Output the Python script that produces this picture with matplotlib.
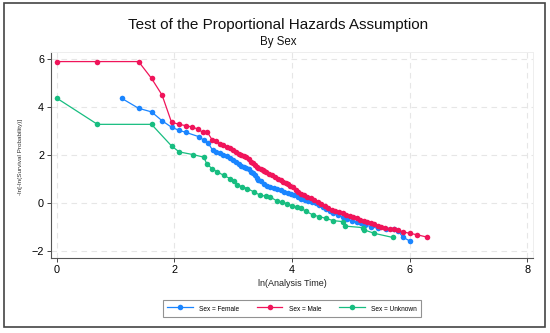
import matplotlib
matplotlib.use("Agg")
import matplotlib.pyplot as plt
from matplotlib.patches import Rectangle

plt.rcParams['font.family'] = ['Liberation Sans', 'DejaVu Sans']

title = "Test of the Proportional Hazards Assumption"
subtitle = "By Sex"
xlabel = "ln(Analysis Time)"
ylabel = "-ln[-ln(Survival Probability)]"
xticks = [0, 2, 4, 6, 8]
yticks = [-2, 0, 2, 4, 6]

female_x = [1.10, 1.39, 1.61, 1.79, 1.95, 2.08, 2.20, 2.41, 2.50, 2.57, 2.65, 2.71, 2.77, 2.83,
            2.89, 2.94, 3.00, 3.04, 3.09, 3.14, 3.18, 3.22, 3.26, 3.30, 3.33, 3.37, 3.40, 3.43,
            3.47, 3.52, 3.58, 3.63, 3.69, 3.75, 3.81, 3.87, 3.93, 3.98, 4.04, 4.10, 4.16, 4.22,
            4.28, 4.34, 4.40, 4.46, 4.52, 4.58, 4.64, 4.70, 4.78, 4.86, 4.94, 5.02, 5.10, 5.17,
            5.25, 5.34, 5.46, 5.60, 5.74, 5.81, 5.88, 6.00]
female_y = [4.37, 3.95, 3.80, 3.43, 3.16, 3.03, 2.94, 2.77, 2.62, 2.51, 2.20, 2.14, 2.08, 2.02,
            1.94, 1.86, 1.78, 1.70, 1.63, 1.56, 1.50, 1.45, 1.40, 1.30, 1.24, 1.15, 1.05, 0.97,
            0.90, 0.80, 0.72, 0.66, 0.62, 0.58, 0.53, 0.47, 0.42, 0.37, 0.31, 0.23, 0.18, 0.13,
            0.09, 0.04, -0.02, -0.09, -0.18, -0.26, -0.34, -0.42, -0.50, -0.60, -0.68, -0.75,
            -0.81, -0.85, -0.92, -0.99, -1.06, -1.08, -1.10, -1.18, -1.41, -1.59]

male_x = [0.00, 0.69, 1.39, 1.61, 1.79, 1.95, 2.08, 2.20, 2.30, 2.40, 2.48, 2.56, 2.64, 2.71,
          2.77, 2.83, 2.89, 2.94, 3.00, 3.04, 3.09, 3.14, 3.18, 3.22, 3.26, 3.30, 3.33, 3.37,
          3.40, 3.43, 3.47, 3.50, 3.53, 3.56, 3.61, 3.66, 3.71, 3.76, 3.81, 3.85, 3.89, 3.93,
          3.97, 4.01, 4.06, 4.11, 4.16, 4.21, 4.26, 4.32, 4.38, 4.44, 4.50, 4.56, 4.62, 4.68,
          4.74, 4.80, 4.86, 4.92, 4.98, 5.04, 5.10, 5.16, 5.22, 5.28, 5.34, 5.40, 5.46, 5.52,
          5.58, 5.66, 5.74, 5.81, 5.88, 6.00, 6.13, 6.30]
male_y = [5.90, 5.90, 5.90, 5.20, 4.50, 3.37, 3.28, 3.22, 3.17, 3.08, 2.95, 2.95, 2.64, 2.58,
          2.47, 2.40, 2.33, 2.28, 2.22, 2.12, 2.05, 2.00, 1.96, 1.91, 1.82, 1.72, 1.65, 1.57,
          1.51, 1.46, 1.42, 1.37, 1.32, 1.27, 1.22, 1.15, 1.08, 1.01, 0.94, 0.88, 0.82, 0.77,
          0.72, 0.65, 0.55, 0.47, 0.39, 0.32, 0.26, 0.19, 0.11, 0.03, -0.05, -0.13, -0.21, -0.28,
          -0.33, -0.38, -0.44, -0.50, -0.55, -0.60, -0.65, -0.70, -0.74, -0.78, -0.84, -0.90,
          -0.96, -1.01, -1.05, -1.08, -1.10, -1.15, -1.20, -1.27, -1.33, -1.43]

unknown_x = [0.00, 0.69, 1.61, 1.95, 2.08, 2.31, 2.50, 2.55, 2.64, 2.73, 2.84, 2.95, 3.01, 3.07,
             3.15, 3.24, 3.35, 3.46, 3.56, 3.63, 3.75, 3.83, 3.92, 4.00, 4.08, 4.15, 4.23,
             4.35, 4.46, 4.57, 4.70, 4.86, 4.91, 5.20, 5.22, 5.40, 5.71]
unknown_y = [4.37, 3.28, 3.28, 2.38, 2.13, 2.02, 1.91, 1.63, 1.43, 1.29, 1.15, 1.01, 0.90, 0.75,
             0.68, 0.60, 0.46, 0.32, 0.28, 0.25, 0.07, 0.02, -0.03, -0.13, -0.18, -0.23,
             -0.33, -0.50, -0.57, -0.64, -0.74, -0.78, -0.97, -1.03, -1.12, -1.27, -1.44]

series = [
    ("Sex = Female", female_x, female_y, "#1a85ff"),
    ("Sex = Male", male_x, male_y, "#f0145a"),
    ("Sex = Unknown", unknown_x, unknown_y, "#17bd80"),
]

W, H = 550, 333
fig = plt.figure(figsize=(W / 100, H / 100), dpi=100)
fig.patch.set_facecolor("white")
ax = fig.add_axes([51 / W, 1 - 258 / H, (533 - 51) / W, (258 - 52) / H])

for label, xs, ys, c in series:
    ax.plot(xs, ys, color=c, lw=0.9, marker="o", markersize=4.0, markeredgewidth=0,
            label=label, zorder=3)

ax.set_xlim(-0.1, 8.1)
ax.set_ylim(-2.3, 6.3)
ax.set_xticks(xticks)
ax.set_yticks(yticks)
ax.set_xticklabels([str(t) for t in xticks])
ax.set_yticklabels([str(t).replace("-", "\u2212") for t in yticks])
ax.tick_params(axis="both", labelsize=7.8, length=3, width=0.7, color="#444444",
               direction="out", pad=2)
ax.grid(True, color="#e6e6e6", linestyle=(0, (5, 4)), linewidth=0.8)
ax.set_axisbelow(True)
for s in ["top", "right"]:
    ax.spines[s].set_color("#eeeeee")
    ax.spines[s].set_linewidth(0.7)
for s in ["left", "bottom"]:
    ax.spines[s].set_color("#555555")
    ax.spines[s].set_linewidth(0.8)

fig.text(278 / W, 1 - 25 / H, title, ha="center", va="center", fontsize=11, color="#111111")
fig.text(278 / W, 1 - 42 / H, subtitle, ha="center", va="center", fontsize=8.3, color="#111111")
fig.text(292 / W, 1 - 283 / H, xlabel, ha="center", va="center", fontsize=6.5, color="#222222")
fig.text(21 / W, 1 - 157 / H, ylabel, ha="center", va="center", rotation=90, fontsize=4.6,
         color="#333333")

leg = fig.legend(loc="center", bbox_to_anchor=(292 / W, 1 - 308.5 / H), ncol=3,
                 fontsize=4.7, frameon=True, fancybox=False, edgecolor="#777777",
                 handlelength=3.9, handleheight=2.0, columnspacing=2.7, borderpad=0.6,
                 handletextpad=1.0, borderaxespad=0)
leg.get_frame().set_linewidth(0.8)

fig.add_artist(Rectangle((4 / W, 1 - 327 / H), (545 - 4) / W, (327 - 3) / H,
                         transform=fig.transFigure, fill=False, edgecolor="#444444",
                         linewidth=1.2))

fig.savefig("out.png", dpi=100, facecolor="white")
